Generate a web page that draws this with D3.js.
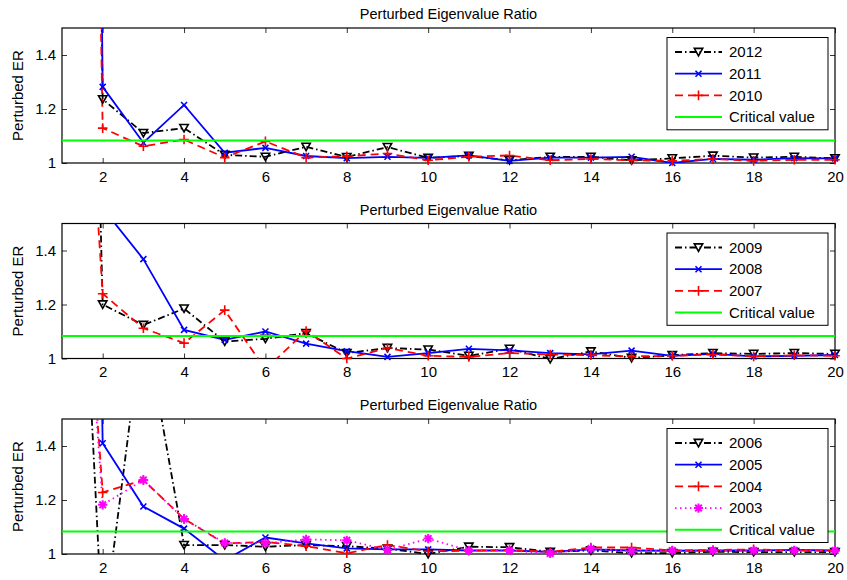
<!DOCTYPE html>
<html>
<head>
<meta charset="utf-8">
<script src="https://cdn.jsdelivr.net/npm/d3@7"></script>
<style>
  body { margin: 0; background: #fff; }
  text { font-family: "Liberation Sans", Arial, Helvetica, sans-serif; fill: #000; }
</style>
</head>
<body>
<svg id="chart" width="847" height="580"></svg>
<script>
// values, one entry per number of factors 1..20
// (the first point of each curve is far above the axis, so it is only a guess)
const steps = [1, 2, 3, 4, 5, 6, 7, 8, 9, 10, 11, 12, 13, 14, 15, 16, 17, 18, 19, 20];
const xTicks = [2, 4, 6, 8, 10, 12, 14, 16, 18, 20];
const yTicks = [1, 1.2, 1.4];
const yTickLabels = ["1", "1.2", "1.4"];
const critical = 1.083;

const y2012 = [12, 1.236, 1.111, 1.129, 1.030, 1.023, 1.060, 1.022, 1.059, 1.019, 1.026, 1.010, 1.023, 1.023, 1.010, 1.017, 1.027, 1.020, 1.023, 1.017];
const y2011 = [15, 1.282, 1.075, 1.215, 1.038, 1.056, 1.026, 1.018, 1.023, 1.019, 1.028, 1.008, 1.020, 1.020, 1.023, 1.000, 1.015, 1.012, 1.018, 1.017];
const y2010 = [10, 1.129, 1.062, 1.087, 1.020, 1.080, 1.020, 1.025, 1.035, 1.010, 1.023, 1.028, 1.010, 1.015, 1.010, 1.008, 1.015, 1.008, 1.012, 1.012];

const y2009 = [7.2, 1.200, 1.124, 1.185, 1.063, 1.073, 1.094, 1.020, 1.039, 1.033, 1.010, 1.036, 0.998, 1.026, 1.002, 1.012, 1.020, 1.017, 1.020, 1.017];
const y2008 = [3.0, 1.557, 1.368, 1.106, 1.069, 1.100, 1.055, 1.027, 1.006, 1.020, 1.036, 1.030, 1.020, 1.015, 1.029, 1.010, 1.017, 1.008, 1.010, 1.013];
const y2007 = [3.6, 1.240, 1.112, 1.057, 1.179, 0.960, 1.102, 1.000, 1.039, 1.010, 1.006, 1.020, 1.015, 1.012, 1.008, 1.010, 1.015, 1.008, 1.012, 1.010];

const y2006 = [3.7, 0.700, 1.880, 1.033, 1.033, 1.027, 1.033, 1.029, 1.020, 1.000, 1.027, 1.025, 1.008, 1.013, 1.003, 1.003, 1.008, 1.007, 1.007, 1.007];
const y2005 = [10, 1.410, 1.176, 1.094, 0.977, 1.061, 1.039, 1.021, 1.017, 1.017, 1.013, 1.013, 1.008, 1.017, 1.013, 1.012, 1.013, 1.013, 1.015, 1.013];
const y2004 = [3.3, 1.228, 1.274, 1.130, 1.039, 1.045, 1.029, 1.003, 1.033, 1.010, 1.012, 1.015, 1.008, 1.024, 1.024, 1.013, 1.015, 1.017, 1.013, 1.012];
const y2003 = [3.3, 1.182, 1.274, 1.130, 1.041, 1.040, 1.054, 1.051, 1.015, 1.057, 1.013, 1.013, 1.002, 1.020, 1.010, 1.013, 1.013, 1.013, 1.013, 1.013];

// matlab-ish line specs
const styles = {
  "-.v": { color: "#000000", dash: "7,3,1.5,3", marker: "tri" },
  "-x":  { color: "#0000ff", dash: null, marker: "x" },
  "--+": { color: "#ff0000", dash: "8,5", marker: "plus" },
  ":*":  { color: "#ff00ff", dash: "1.5,3.5", marker: "star" }
};

const panels = [
  { top: 28, series: [["2012", y2012, "-.v"], ["2011", y2011, "-x"], ["2010", y2010, "--+"]] },
  { top: 223.5, series: [["2009", y2009, "-.v"], ["2008", y2008, "-x"], ["2007", y2007, "--+"]] },
  { top: 419, series: [["2006", y2006, "-.v"], ["2005", y2005, "-x"], ["2004", y2004, "--+"], ["2003", y2003, ":*"]] }
];

const left = 62, right = 835, plotH = 135;
const svg = d3.select("#chart");

function markerPath(type) {
  if (type === "tri") return "M-4.2,-3.6L4.2,-3.6L0,3.8Z";
  if (type === "x") return "M-3,-3L3,3M-3,3L3,-3";
  if (type === "plus") return "M-4.8,0H4.8M0,-4.8V4.8";
  return "M-4.6,0H4.6M0,-4.6V4.6M-3.3,-3.3L3.3,3.3M-3.3,3.3L3.3,-3.3";
}

const x = d3.scaleLinear().domain([1, 20]).range([left, right]);

panels.forEach((p, pi) => {
  const y = d3.scaleLinear().domain([1, 1.5]).range([p.top + plotH, p.top]);
  const g = svg.append("g");

  // clip so the big first values don't spill out of the box
  const clipId = "clip" + pi;
  svg.append("clipPath").attr("id", clipId)
    .append("rect").attr("x", left).attr("y", p.top)
    .attr("width", right - left).attr("height", plotH);

  // axes, ticks inward on all four sides like matlab's box on
  const fmtY = d => yTickLabels[yTicks.indexOf(d)];
  const axB = g.append("g").attr("transform", `translate(0,${p.top + plotH})`)
    .call(d3.axisBottom(x).tickValues(xTicks).tickSizeInner(-5).tickSizeOuter(0).tickPadding(8));
  const axT = g.append("g").attr("transform", `translate(0,${p.top})`)
    .call(d3.axisTop(x).tickValues(xTicks).tickSizeInner(-5).tickSizeOuter(0).tickFormat(""));
  const axL = g.append("g").attr("transform", `translate(${left},0)`)
    .call(d3.axisLeft(y).tickValues(yTicks).tickSizeInner(-5).tickSizeOuter(0).tickPadding(6).tickFormat(fmtY));
  const axR = g.append("g").attr("transform", `translate(${right},0)`)
    .call(d3.axisRight(y).tickValues(yTicks).tickSizeInner(-5).tickSizeOuter(0).tickFormat(""));
  [axB, axT, axL, axR].forEach(a => {
    a.select(".domain").remove();
    a.selectAll("line").attr("stroke", "#000").attr("stroke-width", 0.8);
    a.selectAll("text").style("font-size", "15px").attr("fill", "#000");
  });

  g.append("rect").attr("x", left).attr("y", p.top)
    .attr("width", right - left).attr("height", plotH)
    .attr("fill", "none").attr("stroke", "#000").attr("stroke-width", 1.2);

  const line = d3.line().x((d, i) => x(steps[i])).y(d => y(d));

  const plot = g.append("g").attr("clip-path", `url(#${clipId})`);
  p.series.forEach(([name, vals, spec]) => {
    const st = styles[spec];
    plot.append("path").datum(vals)
      .attr("d", line)
      .attr("fill", "none")
      .attr("stroke", st.color)
      .attr("stroke-width", 1.8)
      .attr("stroke-dasharray", st.dash);
    // markers only where the point is inside the y range
    g.append("g").selectAll("path")
      .data(vals.map((v, i) => [steps[i], v]).filter(d => d[1] >= 1 - 0.005 && d[1] <= 1.5))
      .join("path")
      .attr("transform", d => `translate(${x(d[0])},${y(d[1])})`)
      .attr("d", markerPath(st.marker))
      .attr("fill", "none")
      .attr("stroke", st.color)
      .attr("stroke-width", st.marker === "star" ? 2 : 1.6);
  });

  // critical value line
  g.append("path").datum([1, 20])
    .attr("d", d3.line().x(d => x(d)).y(() => y(critical)))
    .attr("stroke", "#00ff00").attr("stroke-width", 2).attr("fill", "none");

  // title + y label
  g.append("text").attr("x", (left + right) / 2).attr("y", p.top - 9)
    .attr("text-anchor", "middle").style("font-size", "14.5px")
    .text("Perturbed Eigenvalue Ratio");
  g.append("text")
    .attr("transform", `translate(23,${p.top + plotH / 2}) rotate(-90)`)
    .attr("text-anchor", "middle").style("font-size", "15px")
    .text("Perturbed ER");

  // legend
  const rows = p.series.map(s => ({ name: s[0], st: styles[s[2]] }))
    .concat([{ name: "Critical value", st: { color: "#00ff00", dash: null, marker: null } }]);
  const lg = g.append("g").attr("transform", `translate(667,${p.top + 9.5})`);
  lg.append("rect").attr("width", 161).attr("height", 5.5 + rows.length * 21.7)
    .attr("fill", "#fff").attr("stroke", "#000").attr("stroke-width", 1);
  rows.forEach((r, i) => {
    const ry = 14.5 + i * 21.7;
    lg.append("line").attr("x1", 8).attr("x2", 55).attr("y1", ry).attr("y2", ry)
      .attr("stroke", r.st.color).attr("stroke-width", r.st.marker ? 1.8 : 2)
      .attr("stroke-dasharray", r.st.dash);
    if (r.st.marker) {
      lg.append("path").attr("transform", `translate(31.5,${ry})`)
        .attr("d", markerPath(r.st.marker))
        .attr("fill", "none").attr("stroke", r.st.color)
        .attr("stroke-width", r.st.marker === "star" ? 2 : 1.6);
    }
    lg.append("text").attr("x", 62).attr("y", ry).attr("dy", "0.35em")
      .style("font-size", "15px").text(r.name);
  });
});
</script>
</body>
</html>
